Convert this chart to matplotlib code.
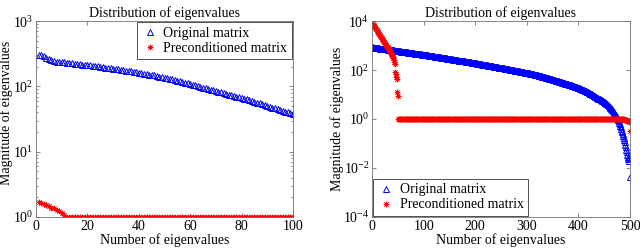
import numpy as np
import matplotlib
matplotlib.use("Agg")
import matplotlib.pyplot as plt
from matplotlib.ticker import LogLocator, FixedLocator

plt.rcParams['font.family'] = ['Liberation Serif', 'DejaVu Serif']
plt.rcParams['mathtext.fontset'] = 'stix'
plt.rcParams['font.size'] = 10

## ---- data: left panel (100 eigenvalues) ----
left_original = [
    305, 298, 290, 275, 262, 250, 243, 240, 238, 236,
    234, 232, 229, 226, 224, 221, 219, 216, 214, 212,
    209, 207, 204, 202, 199, 197, 194, 192, 189, 187,
    185, 182, 180, 177, 175, 172, 170, 167, 165, 162,
    160, 157, 155, 152, 150, 147, 144, 141, 138, 136,
    133, 130, 128, 125, 122, 119, 117, 114, 112, 109,
    106, 104, 101, 99, 96, 94, 91, 89, 87, 85,
    83, 81, 79, 77, 75, 73, 71, 70, 68, 66,
    64, 63, 61, 59, 58, 56, 55, 53, 52, 50,
    49, 47, 46, 45, 43, 42, 41, 40, 39, 38,
]
left_precond = [1.70, 1.65, 1.60, 1.52, 1.45, 1.38, 1.35, 1.30, 1.22, 1.15, 1.07] + [1.0] * 89

## ---- data: right panel (500 eigenvalues), stored as log10 magnitude ----
right_original_log = [
    2.93, 2.93, 2.92, 2.92, 2.92, 2.91, 2.91, 2.91, 2.90, 2.90, 2.90, 2.89, 2.89, 2.89, 2.88, 2.88, 2.88, 2.88, 2.87, 2.87,
    2.87, 2.86, 2.86, 2.86, 2.85, 2.85, 2.85, 2.84, 2.84, 2.84, 2.83, 2.83, 2.83, 2.82, 2.82, 2.82, 2.81, 2.81, 2.81, 2.81,
    2.80, 2.80, 2.80, 2.79, 2.79, 2.79, 2.78, 2.78, 2.78, 2.77, 2.77, 2.77, 2.76, 2.76, 2.76, 2.76, 2.75, 2.75, 2.75, 2.74,
    2.74, 2.74, 2.73, 2.73, 2.73, 2.73, 2.72, 2.72, 2.72, 2.71, 2.71, 2.71, 2.70, 2.70, 2.70, 2.70, 2.69, 2.69, 2.69, 2.68,
    2.68, 2.68, 2.67, 2.67, 2.67, 2.67, 2.66, 2.66, 2.66, 2.65, 2.65, 2.65, 2.64, 2.64, 2.64, 2.64, 2.63, 2.63, 2.63, 2.63,
    2.62, 2.62, 2.62, 2.61, 2.61, 2.61, 2.60, 2.60, 2.60, 2.59, 2.59, 2.59, 2.58, 2.58, 2.58, 2.57, 2.57, 2.57, 2.56, 2.56,
    2.56, 2.55, 2.55, 2.55, 2.54, 2.54, 2.54, 2.53, 2.53, 2.53, 2.52, 2.52, 2.52, 2.51, 2.51, 2.51, 2.50, 2.50, 2.50, 2.49,
    2.49, 2.49, 2.48, 2.48, 2.48, 2.47, 2.47, 2.47, 2.46, 2.46, 2.46, 2.45, 2.45, 2.45, 2.44, 2.44, 2.43, 2.43, 2.43, 2.42,
    2.42, 2.42, 2.41, 2.41, 2.41, 2.40, 2.40, 2.39, 2.39, 2.39, 2.38, 2.38, 2.38, 2.37, 2.37, 2.36, 2.36, 2.36, 2.35, 2.35,
    2.35, 2.34, 2.34, 2.34, 2.33, 2.33, 2.32, 2.32, 2.32, 2.31, 2.31, 2.31, 2.30, 2.30, 2.30, 2.29, 2.29, 2.28, 2.28, 2.28,
    2.27, 2.27, 2.27, 2.26, 2.26, 2.25, 2.25, 2.25, 2.24, 2.24, 2.24, 2.23, 2.23, 2.22, 2.22, 2.22, 2.21, 2.21, 2.21, 2.20,
    2.20, 2.19, 2.19, 2.19, 2.18, 2.18, 2.18, 2.17, 2.17, 2.16, 2.16, 2.16, 2.15, 2.15, 2.15, 2.14, 2.14, 2.13, 2.13, 2.13,
    2.12, 2.12, 2.12, 2.11, 2.11, 2.10, 2.10, 2.10, 2.09, 2.09, 2.09, 2.08, 2.08, 2.07, 2.07, 2.07, 2.06, 2.06, 2.06, 2.05,
    2.05, 2.04, 2.04, 2.04, 2.03, 2.03, 2.02, 2.02, 2.02, 2.01, 2.01, 2.00, 2.00, 2.00, 1.99, 1.99, 1.98, 1.98, 1.98, 1.97,
    1.97, 1.96, 1.96, 1.96, 1.95, 1.95, 1.94, 1.94, 1.93, 1.93, 1.93, 1.92, 1.92, 1.91, 1.91, 1.90, 1.90, 1.89, 1.89, 1.89,
    1.88, 1.88, 1.87, 1.87, 1.86, 1.86, 1.85, 1.85, 1.84, 1.84, 1.83, 1.83, 1.82, 1.82, 1.81, 1.81, 1.80, 1.80, 1.79, 1.79,
    1.78, 1.78, 1.77, 1.77, 1.76, 1.76, 1.75, 1.75, 1.74, 1.73, 1.73, 1.72, 1.72, 1.71, 1.71, 1.70, 1.69, 1.69, 1.68, 1.68,
    1.67, 1.66, 1.66, 1.65, 1.65, 1.64, 1.63, 1.63, 1.62, 1.61, 1.61, 1.60, 1.59, 1.59, 1.58, 1.57, 1.57, 1.56, 1.55, 1.55,
    1.54, 1.54, 1.53, 1.52, 1.52, 1.51, 1.50, 1.50, 1.49, 1.48, 1.48, 1.47, 1.46, 1.46, 1.45, 1.44, 1.44, 1.43, 1.42, 1.42,
    1.41, 1.40, 1.40, 1.39, 1.38, 1.37, 1.37, 1.36, 1.35, 1.34, 1.34, 1.33, 1.32, 1.31, 1.31, 1.30, 1.29, 1.29, 1.28, 1.28,
    1.27, 1.26, 1.25, 1.24, 1.23, 1.22, 1.21, 1.20, 1.19, 1.18, 1.17, 1.16, 1.15, 1.14, 1.13, 1.12, 1.11, 1.10, 1.09, 1.08,
    1.07, 1.06, 1.04, 1.03, 1.02, 1.01, 0.99, 0.98, 0.97, 0.95, 0.94, 0.93, 0.91, 0.90, 0.88, 0.87, 0.86, 0.84, 0.83, 0.82,
    0.81, 0.80, 0.78, 0.77, 0.76, 0.75, 0.73, 0.72, 0.71, 0.70, 0.68, 0.66, 0.65, 0.63, 0.61, 0.60, 0.58, 0.56, 0.54, 0.52,
    0.50, 0.47, 0.45, 0.42, 0.40, 0.37, 0.34, 0.31, 0.29, 0.26, 0.22, 0.18, 0.14, 0.10, 0.06, 0.01, -0.04, -0.09, -0.15, -0.21,
    -0.27, -0.33, -0.40, -0.47, -0.54, -0.62, -0.70, -0.78, -0.86, -0.95, -1.05, -1.15, -1.25, -1.36, -1.48, -1.55, -1.62, -1.70, -1.58, -2.36,
]
right_precond_head_log = [
    3.88, 3.85, 3.82, 3.78, 3.75, 3.72, 3.69, 3.66, 3.62, 3.59,
    3.56, 3.52, 3.49, 3.46, 3.43, 3.39, 3.36, 3.33, 3.30, 3.26,
    3.23, 3.20, 3.16, 3.13, 3.10, 3.06, 3.03, 3.00, 2.96, 2.93,
    2.90, 2.86, 2.82, 2.78, 2.74, 2.70, 2.66, 2.62, 2.58, 2.54,
    2.49, 2.42, 2.34, 2.24,
    1.92, 1.85, 1.72, 1.62, 1.10, 0.96,
]
right_precond_flat_log = [0.0] * 435
right_precond_tail_log = [-0.005, -0.01, -0.015, -0.02, -0.025, -0.03, -0.035, -0.04,
                          -0.05, -0.06, -0.07, -0.08, -0.10, -0.11, -0.49]

titles = ["Distribution of eigenvalues", "Distribution of eigenvalues"]
xlabel = "Number of eigenvalues"
ylabel = "Magnitude of eigenvalues"
legend_labels = ["Original matrix", "Preconditioned matrix"]

## ---- figure ----
fig = plt.figure(figsize=(6.4, 2.48), dpi=100)
ax1 = fig.add_axes([0.0563, 0.125, 0.4015, 0.79])
ax2 = fig.add_axes([0.5813, 0.125, 0.4030, 0.79])

blue_kw = dict(linestyle='none', marker='^', markersize=4.6, markerfacecolor='none',
               markeredgecolor='blue', markeredgewidth=0.7)
red_kw = dict(linestyle='none', marker=(8, 2, 0), markersize=4.0, color='red',
              markeredgewidth=0.5)

## left panel
x_left = np.arange(1, len(left_original) + 1)
ax1.semilogy(x_left, left_original, label=legend_labels[0], **blue_kw)
ax1.semilogy(x_left, left_precond, label=legend_labels[1], **red_kw)
ax1.set_xlim(0, 100)
ax1.set_ylim(1, 1000)
ax1.set_xticks(np.arange(0, 101, 20))
ax1.yaxis.set_major_locator(FixedLocator([1, 10, 100, 1000]))
ax1.yaxis.set_minor_locator(LogLocator(base=10, subs=np.arange(2, 10)))

## right panel
right_original = 10 ** np.array(right_original_log)
right_precond = 10 ** np.array(right_precond_head_log + right_precond_flat_log + right_precond_tail_log)
x_right = np.arange(1, len(right_original) + 1)
ax2.semilogy(x_right, right_original, label=legend_labels[0], **blue_kw)
ax2.semilogy(np.arange(1, len(right_precond) + 1), right_precond, label=legend_labels[1], **red_kw)
ax2.set_xlim(0, 500)
ax2.set_ylim(1e-4, 1e4)
ax2.set_xticks(np.arange(0, 501, 100))
ax2.yaxis.set_major_locator(FixedLocator([1e-4, 1e-2, 1, 1e2, 1e4]))
ax2.yaxis.set_minor_locator(FixedLocator([]))

for ax, title in zip([ax1, ax2], titles):
    ax.set_title(title, fontsize=10, pad=3)
    ax.set_xlabel(xlabel, fontsize=10, labelpad=0)
    ax.set_ylabel(ylabel, fontsize=10)
    ax.tick_params(which='both', direction='in', top=True, right=True,
                   color='0.35', width=0.5, labelsize=10, pad=2)
    ax.tick_params(which='major', length=3)
    ax.tick_params(which='minor', length=1.5)
    for s in ax.spines.values():
        s.set_color('0.45')
        s.set_linewidth(0.6)

## y label positions (axes fraction, right edge of the rotated text)
ax1.yaxis.set_label_coords(-0.088, 0.53)
ax2.yaxis.set_label_coords(-0.108, 0.5)

leg1 = ax1.legend(loc='upper right', fontsize=10, fancybox=False, framealpha=1,
                  edgecolor='0.2', borderpad=0.3, handletextpad=0.4, labelspacing=0.15,
                  handlelength=1.2, borderaxespad=0.1)
leg2 = ax2.legend(loc='lower left', fontsize=10, fancybox=False, framealpha=1,
                  edgecolor='0.2', borderpad=0.3, handletextpad=0.4, labelspacing=0.15,
                  handlelength=1.2, borderaxespad=0.1)
for leg in (leg1, leg2):
    leg.get_frame().set_linewidth(0.6)

fig.savefig("out.png", dpi=100)
